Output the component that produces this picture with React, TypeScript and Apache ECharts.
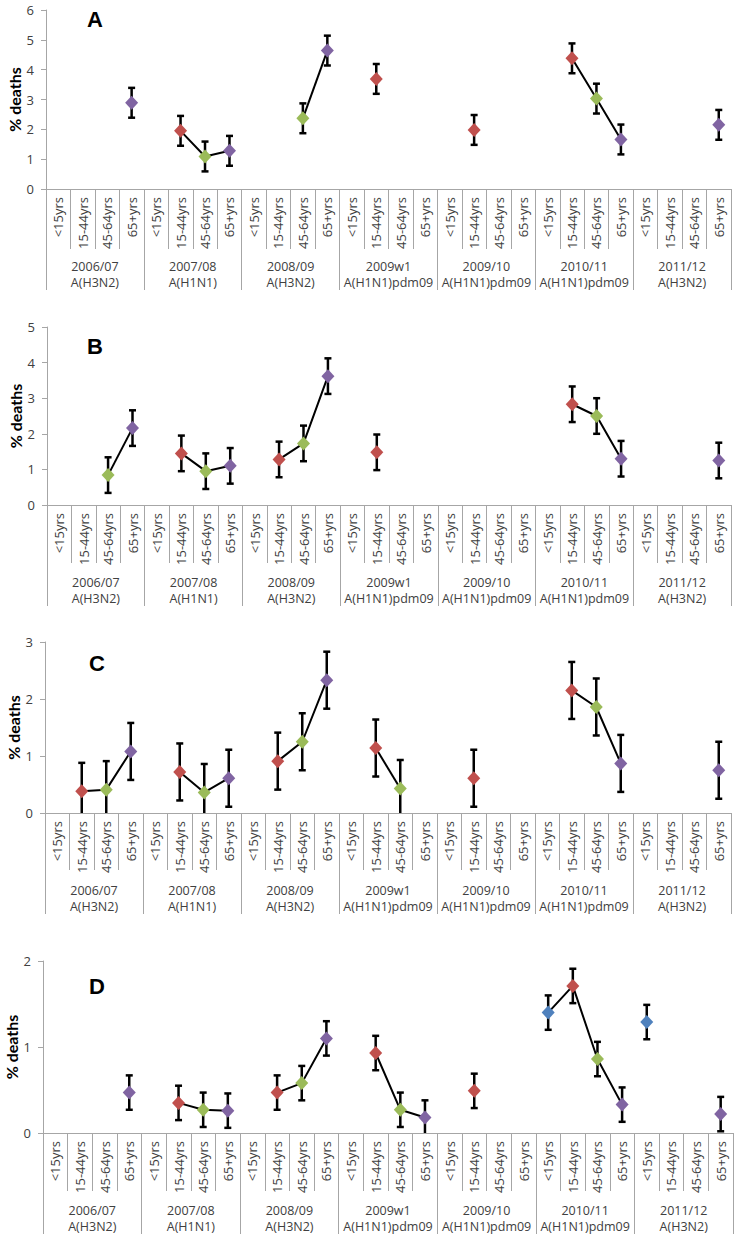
import React, { useEffect, useRef } from "react";
import * as echarts from "echarts";

const ageGroups = ["<15yrs", "15-44yrs", "45-64yrs", "65+yrs"];
const seasonYears = ["2006/07", "2007/08", "2008/09", "2009w1", "2009/10", "2010/11", "2011/12"];
const seasonStrains = ["A(H3N2)", "A(H1N1)", "A(H3N2)", "A(H1N1)pdm09", "A(H1N1)pdm09", "A(H1N1)pdm09", "A(H3N2)"];
const ageColors = ["#4F81BD", "#C0504D", "#9BBB59", "#8064A2"];

// values per season: [<15, 15-44, 45-64, 65+]
const panelA = [
  [null, null, null, 2.89],
  [null, 1.95, 1.09, 1.28],
  [null, null, 2.37, 4.64],
  [null, 3.69, null, null],
  [null, 1.98, null, null],
  [null, 4.38, 3.03, 1.66],
  [null, null, null, 2.15],
];
const panelB = [
  [null, null, 0.84, 2.16],
  [null, 1.45, 0.95, 1.1],
  [null, 1.28, 1.73, 3.62],
  [null, 1.48, null, null],
  [null, null, null, null],
  [null, 2.83, 2.5, 1.3],
  [null, null, null, 1.25],
];
const panelC = [
  [null, 0.38, 0.41, 1.08],
  [null, 0.72, 0.36, 0.61],
  [null, 0.91, 1.25, 2.33],
  [null, 1.14, 0.43, null],
  [null, 0.61, null, null],
  [null, 2.15, 1.86, 0.87],
  [null, null, null, 0.75],
];
const panelD = [
  [null, null, null, 0.47],
  [null, 0.35, 0.27, 0.26],
  [null, 0.47, 0.58, 1.1],
  [null, 0.93, 0.27, 0.18],
  [null, 0.49, null, null],
  [1.4, 1.71, 0.86, 0.33],
  [1.29, null, null, 0.22],
];
const panelLetters = ["A", "B", "C", "D"];
const panelMax = [6, 5, 3, 2];
const panelErr = [0.5, 0.5, 0.5, 0.2];
const panels = [panelA, panelB, panelC, panelD];

// layout (pixels)
const layout = [
  { top: 10, height: 179, left: 46, right: 7, letterX: 95, letterY: 19, ageTick: 60 },
  { top: 327, height: 178, left: 47, right: 7, letterX: 95, letterY: 346, ageTick: 58 },
  { top: 642, height: 171, left: 45, right: 7, letterX: 97, letterY: 663, ageTick: 57 },
  { top: 961, height: 172, left: 43, right: 5, letterX: 97, letterY: 986, ageTick: 58 },
];

const FONT = "Open Sans";
const GRAY = "#A6A6A6";
const TXT = "#404040";

export default function App() {
  const ref = useRef<HTMLDivElement>(null);
  useEffect(() => {
    if (!ref.current) return;
    const chart = echarts.init(ref.current, null, { renderer: "svg" });
    const categories: string[] = [];
    seasonYears.forEach(() => ageGroups.forEach((a) => categories.push(a)));
    const seasonLabels = seasonYears.map((y, i) => y + "\n" + seasonStrains[i]);

    const grid: any[] = [];
    const xAxis: any[] = [];
    const yAxis: any[] = [];
    const series: any[] = [];
    const graphic: any[] = [];

    panels.forEach((panel, p) => {
      const L = layout[p];
      grid.push({ left: L.left, right: L.right, top: L.top, height: L.height, outerBoundsMode: "none" });
      xAxis.push({
        type: "category",
        gridIndex: p,
        position: "bottom",
        data: categories,
        axisLine: { show: true, lineStyle: { color: GRAY, width: 1 } },
        axisTick: { show: true, interval: 0, length: L.ageTick, lineStyle: { color: GRAY } },
        axisLabel: { interval: 0, rotate: 90, margin: 8, fontSize: 13, fontFamily: FONT, color: TXT },
        splitLine: { show: false },
      });
      xAxis.push({
        type: "category",
        gridIndex: p,
        position: "bottom",
        data: seasonLabels,
        axisLine: { show: false },
        axisTick: { show: true, interval: 0, length: 101, lineStyle: { color: GRAY } },
        axisLabel: { interval: 0, margin: 69, fontSize: 12.5, lineHeight: 16, fontFamily: FONT, color: TXT },
        splitLine: { show: false },
      });
      yAxis.push({
        type: "value",
        gridIndex: p,
        min: 0,
        max: panelMax[p],
        interval: 1,
        name: "% deaths",
        nameLocation: "middle",
        nameGap: 24,
        nameMoveOverlap: false,
        nameTextStyle: { fontFamily: "Lato", fontWeight: "bold", fontSize: 16, color: "#000" },
        axisLine: { show: true, lineStyle: { color: GRAY, width: 1 } },
        axisTick: { show: true, length: 5, lineStyle: { color: GRAY } },
        axisLabel: { margin: 12, fontSize: 13, fontFamily: FONT, color: TXT },
        splitLine: { show: false },
      });

      const errData: any[] = [];
      panel.forEach((vals, s) => {
        const data: any[] = categories.map(() => null);
        vals.forEach((v, a) => {
          const idx = s * 4 + a;
          if (v !== null && v !== undefined) {
            data[idx] = { value: v, itemStyle: { color: ageColors[a] } };
            errData.push([idx, v - panelErr[p], v + panelErr[p]]);
          }
        });
        series.push({
          type: "line",
          xAxisIndex: p * 2,
          yAxisIndex: p,
          data,
          connectNulls: false,
          showSymbol: true,
          showAllSymbol: true,
          symbol: "diamond",
          symbolSize: [13, 14],
          lineStyle: { color: "#000", width: 2 },
          z: 3,
          silent: true,
        });
      });
      series.push({
        type: "custom",
        xAxisIndex: p * 2,
        yAxisIndex: p,
        clip: true,
        z: 2,
        silent: true,
        encode: { x: 0, y: [1, 2] },
        data: errData,
        renderItem: (params: any, api: any) => {
          const x = api.value(0);
          const pLo = api.coord([x, api.value(1)]);
          const pHi = api.coord([x, api.value(2)]);
          const cap = 3.5;
          const style = { stroke: "#000", lineWidth: 2.5 };
          return {
            type: "group",
            children: [
              { type: "line", shape: { x1: pHi[0], y1: pHi[1], x2: pLo[0], y2: pLo[1] }, style },
              { type: "line", shape: { x1: pHi[0] - cap, y1: pHi[1], x2: pHi[0] + cap, y2: pHi[1] }, style },
              { type: "line", shape: { x1: pLo[0] - cap, y1: pLo[1], x2: pLo[0] + cap, y2: pLo[1] }, style },
            ],
          };
        },
      });

      graphic.push({
        type: "text",
        x: L.letterX,
        y: L.letterY,
        style: {
          text: panelLetters[p],
          font: 'bold 22px "Liberation Sans", Arial, sans-serif',
          fill: "#000",
          textAlign: "center",
          textVerticalAlign: "middle",
        },
      });
    });

    chart.setOption({
      animation: false,
      backgroundColor: "#fff",
      grid,
      xAxis,
      yAxis,
      series,
      graphic,
    });
    return () => chart.dispose();
  }, []);
  return (
    <div
      ref={ref}
      style={{ position: "absolute", left: 0, top: 0, width: 738, height: 1240, background: "#fff" }}
    />
  );
}
